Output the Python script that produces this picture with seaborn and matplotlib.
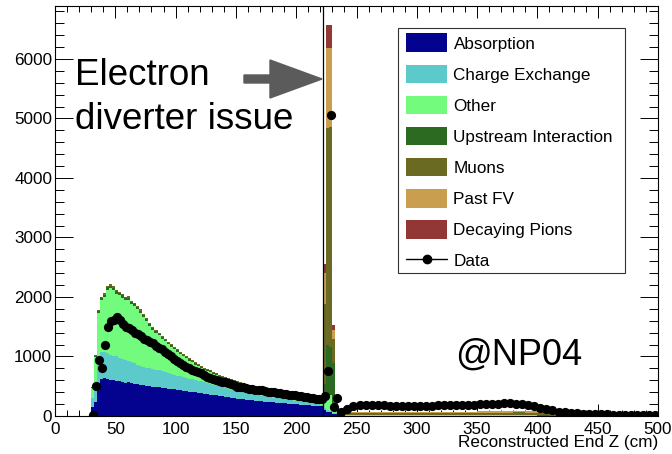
import numpy as np
import pandas as pd
import matplotlib
matplotlib.use("Agg")
import matplotlib.pyplot as plt
from matplotlib.patches import Patch, Rectangle, FancyArrow
from matplotlib.lines import Line2D
from matplotlib.ticker import MultipleLocator
import seaborn as sns

# ---------------- data ----------------
categories = ["Absorption", "Charge Exchange", "Other", "Upstream Interaction",
              "Muons", "Past FV", "Decaying Pions"]
colors = {
    "Absorption": "#03038f",
    "Charge Exchange": "#5ccaca",
    "Other": "#72fb7c",
    "Upstream Interaction": "#2c6a22",
    "Muons": "#6b6a22",
    "Past FV": "#c99e4e",
    "Decaying Pions": "#923636",
}

# main region: 2.5 cm bins from 30 to 235 cm (82 bins)
absorption_main = [150, 230, 560, 620, 640, 625, 610, 600, 595, 585,
                   575, 560, 570, 550, 545, 530, 525, 515, 505, 500,
                   495, 485, 488, 475, 468, 462, 455, 448, 440, 432,
                   425, 418, 410, 402, 398, 390, 380, 372, 368, 360,
                   352, 345, 338, 332, 325, 318, 310, 302, 290, 285,
                   280, 272, 268, 262, 256, 250, 246, 240, 236, 232,
                   228, 224, 220, 216, 212, 208, 204, 200, 196, 192,
                   188, 184, 180, 175, 170, 165, 160, 100, 70, 60,
                   40, 40]
cex_main = [150, 270, 450, 460, 440, 430, 420, 410, 405, 395,
            380, 375, 360, 358, 350, 335, 320, 315, 305, 300,
            290, 285, 280, 275, 270, 262, 255, 248, 240, 235,
            230, 225, 220, 215, 210, 205, 200, 192, 185, 178,
            172, 165, 158, 152, 145, 140, 135, 132, 130, 125,
            120, 115, 110, 106, 102, 98, 95, 92, 88, 85,
            82, 78, 75, 72, 68, 65, 62, 58, 55, 52,
            48, 45, 42, 38, 35, 32, 28, 30, 25, 20,
            10, 10]
other_main = [175, 495, 725, 870, 920, 1065, 1115, 1105, 1058, 1048,
              1035, 1006, 1022, 975, 950, 931, 892, 838, 789, 711,
              666, 633, 586, 544, 518, 482, 457, 422, 399, 372,
              346, 328, 302, 285, 256, 239, 225, 211, 204, 194,
              183, 173, 163, 156, 150, 147, 146, 138, 137, 133,
              128, 126, 122, 122, 122, 122, 120, 114, 113, 110,
              108, 106, 103, 100, 99, 102, 99, 100, 99, 102,
              103, 102, 104, 109, 112, 115, 114, 150, 270, 270,
              120, 150]
upstream_main = [10, 20, 30, 35, 38, 40, 40, 40, 38, 38,
                 37, 36, 36, 35, 34, 33, 33, 32, 31, 30,
                 30, 29, 28, 28, 27, 27, 26, 26, 25, 25,
                 24, 24, 23, 23, 22, 22, 21, 21, 20, 20,
                 20, 19, 19, 18, 18, 18, 17, 17, 17, 16,
                 16, 16, 15, 15, 15, 15, 14, 14, 14, 14,
                 13, 13, 13, 13, 12, 12, 12, 12, 12, 11,
                 11, 11, 11, 10, 10, 10, 10, 250, 820, 815,
                 720, 60]
muons_main = [5, 10, 15, 20, 22, 25, 25, 25, 24, 24,
              23, 23, 22, 22, 21, 21, 20, 20, 20, 19,
              19, 18, 18, 18, 17, 17, 17, 16, 16, 16,
              15, 15, 15, 15, 14, 14, 14, 14, 13, 13,
              13, 13, 12, 12, 12, 12, 12, 11, 11, 11,
              11, 11, 10, 10, 10, 10, 10, 10, 9, 9,
              9, 9, 9, 9, 9, 8, 8, 8, 8, 8,
              8, 8, 8, 8, 8, 8, 8, 1350, 3650, 3697,
              400, 60]
pastfv_main = [0] * 77 + [520, 1350, 1328, 160, 30]
decaying_main = [0] * 77 + [150, 390, 381, 80, 0]

# tail region: 235-240 then 10 cm bins up to 500 cm (27 bins)
absorption_tail = [12, 6, 5, 5, 5, 4, 4, 4, 4, 4, 4, 4, 4, 4, 4, 4, 3, 3, 3, 2, 2, 1, 1, 1, 1, 1, 1]
cex_tail = [5, 2, 2, 2, 2, 2, 2, 2, 2, 2, 2, 2, 2, 2, 2, 2, 2, 2, 1, 1, 1, 1, 0, 0, 0, 0, 0]
other_tail = [15, 6, 5, 5, 5, 5, 4, 4, 4, 4, 4, 4, 4, 4, 4, 4, 4, 3, 3, 2, 2, 1, 1, 1, 1, 1, 1]
upstream_tail = [5, 3, 2, 2, 2, 2, 2, 2, 2, 2, 2, 2, 2, 2, 2, 2, 2, 2, 1, 1, 1, 1, 1, 0, 0, 0, 0]
muons_tail = [15, 30, 35, 38, 38, 37, 37, 38, 38, 40, 40, 42, 43, 45, 46, 47, 45, 40, 32, 24, 16, 11, 8, 6, 5, 4, 3]
pastfv_tail = [8, 15, 18, 19, 19, 18, 18, 18, 19, 19, 20, 21, 22, 23, 24, 24, 22, 19, 15, 11, 8, 5, 4, 3, 2, 2, 1]
decaying_tail = [0] * 27

# data points
data_main = [20, 500, 940, 800, 1190, 1500, 1600, 1610, 1660, 1620,
             1550, 1500, 1480, 1450, 1390, 1370, 1340, 1300, 1280, 1240,
             1225, 1180, 1150, 1120, 1080, 1050, 1000, 960, 920, 890,
             860, 830, 800, 780, 760, 740, 715, 690, 660, 640,
             620, 605, 590, 577, 565, 560, 545, 520, 495, 490,
             480, 470, 460, 455, 440, 435, 430, 420, 410, 405,
             395, 390, 385, 375, 365, 360, 350, 345, 340, 335,
             325, 320, 310, 300, 290, 280, 290, 330, 760, 5060,
             150, 300]
data_tail = [60, 120, 165, 180, 190, 188, 182, 178, 175, 172,
             172, 170, 168, 170, 172, 175, 178, 180, 182, 185,
             188, 190, 192, 195, 198, 200, 210, 215, 212, 205,
             195, 180, 160, 140, 115, 95, 75, 60, 50, 45,
             40, 35, 32, 30, 28, 25, 22, 20, 18, 15,
             12, 10, 10]

# ---------------- assemble ----------------
edges = np.concatenate([np.arange(30, 235.01, 2.5), np.arange(240, 500.01, 10)])
centres = (edges[:-1] + edges[1:]) / 2
series = {
    "Absorption": absorption_main + absorption_tail,
    "Charge Exchange": cex_main + cex_tail,
    "Other": other_main + other_tail,
    "Upstream Interaction": upstream_main + upstream_tail,
    "Muons": muons_main + muons_tail,
    "Past FV": pastfv_main + pastfv_tail,
    "Decaying Pions": decaying_main + decaying_tail,
}
for k, v in series.items():
    assert len(v) == len(centres), (k, len(v), len(centres))
df = pd.DataFrame({
    "z": np.concatenate([centres for _ in categories]),
    "count": np.concatenate([np.array(series[c], float) for c in categories]),
    "component": np.repeat(categories, len(centres)),
})
assert len(data_main) == 82 and len(data_tail) == 53
data_z = np.concatenate([centres[:82], np.arange(237.5, 500, 5)])
data_y = np.array(data_main + data_tail, float)

# ---------------- plot ----------------
sns.set_style("ticks")
plt.rcParams["font.family"] = ["Liberation Sans", "DejaVu Sans"]
plt.rcParams["text.color"] = "black"
plt.rcParams["xtick.color"] = "black"
plt.rcParams["ytick.color"] = "black"
plt.rcParams["axes.labelcolor"] = "black"

W, H = 672, 454
fig = plt.figure(figsize=(W / 100, H / 100), dpi=100)
ax = fig.add_axes([55 / W, 1 - 416 / H, (658 - 55) / W, (416 - 6) / H])

sns.histplot(data=df, x="z", weights="count", hue="component",
             hue_order=categories[::-1], multiple="stack",
             bins=[float(e) for e in edges],
             element="step", fill=True, palette=colors, alpha=1,
             linewidth=0, legend=False, ax=ax)

sns.scatterplot(x=data_z, y=data_y, color="black", s=44, linewidth=0,
                zorder=5, ax=ax, legend=False)

ax.axvline(222.4, color="black", lw=0.9, zorder=4)

ax.set_xlim(0, 500)
ax.set_ylim(0, 6890)
ax.set_xlabel("")
ax.set_ylabel("")
ax.xaxis.set_major_locator(MultipleLocator(50))
ax.xaxis.set_minor_locator(MultipleLocator(10))
ax.yaxis.set_major_locator(MultipleLocator(1000))
ax.yaxis.set_minor_locator(MultipleLocator(200))
ax.tick_params(which="both", direction="in", top=True, right=True,
               width=0.7, color="black", labelcolor="black")
ax.tick_params(axis="x", which="major", length=8.6, labelsize=12.3, pad=4)
ax.tick_params(axis="x", which="minor", length=4.3)
ax.tick_params(axis="y", which="major", length=13, labelsize=12.3, pad=2)
ax.tick_params(axis="y", which="minor", length=6.5)
for s in ax.spines.values():
    s.set_linewidth(0.8)
    s.set_color("black")


def fx(x):
    return x / W


def fy(y):
    return 1 - y / H


fig.text(fx(658), fy(443), "Reconstructed End Z (cm)", ha="right",
         va="center", fontsize=12.3, color="black")

# annotations
fig.text(fx(75), fy(85), "Electron", fontsize=26.5, va="baseline", ha="left", color="black")
fig.text(fx(75), fy(129), "diverter issue", fontsize=26.5, va="baseline", ha="left", color="black")
fig.text(fx(455), fy(365), "@NP04", fontsize=26, va="baseline", ha="left", color="black")

arrow = FancyArrow(fx(244), fy(79), 78 / W, 0, width=8 / H,
                   head_width=38 / H, head_length=52 / W,
                   length_includes_head=True, color="#5b5b5b",
                   transform=fig.transFigure)
fig.add_artist(arrow)

# legend
frame = Rectangle((fx(398), fy(273)), (625 - 398) / W, (273 - 28) / H,
                  transform=fig.transFigure, fill=True, facecolor="white",
                  edgecolor="#333333", lw=0.8, zorder=9)
fig.add_artist(frame)
handles = [Patch(facecolor=colors[c], edgecolor="none") for c in categories]
handles.append(Line2D([0], [0], color="black", marker="o", markersize=6, lw=1))
labels = categories + ["Data"]
leg = fig.legend(handles, labels, loc="upper left",
                 bbox_to_anchor=(fx(406), fy(33.5)), frameon=False,
                 borderpad=0, borderaxespad=0, fontsize=12.3,
                 handlelength=2.4, handleheight=1.3, handletextpad=0.38,
                 labelspacing=0.73)
for t in leg.get_texts():
    t.set_color("black")
leg.set_zorder(10)

fig.savefig("out.png", dpi=100)
